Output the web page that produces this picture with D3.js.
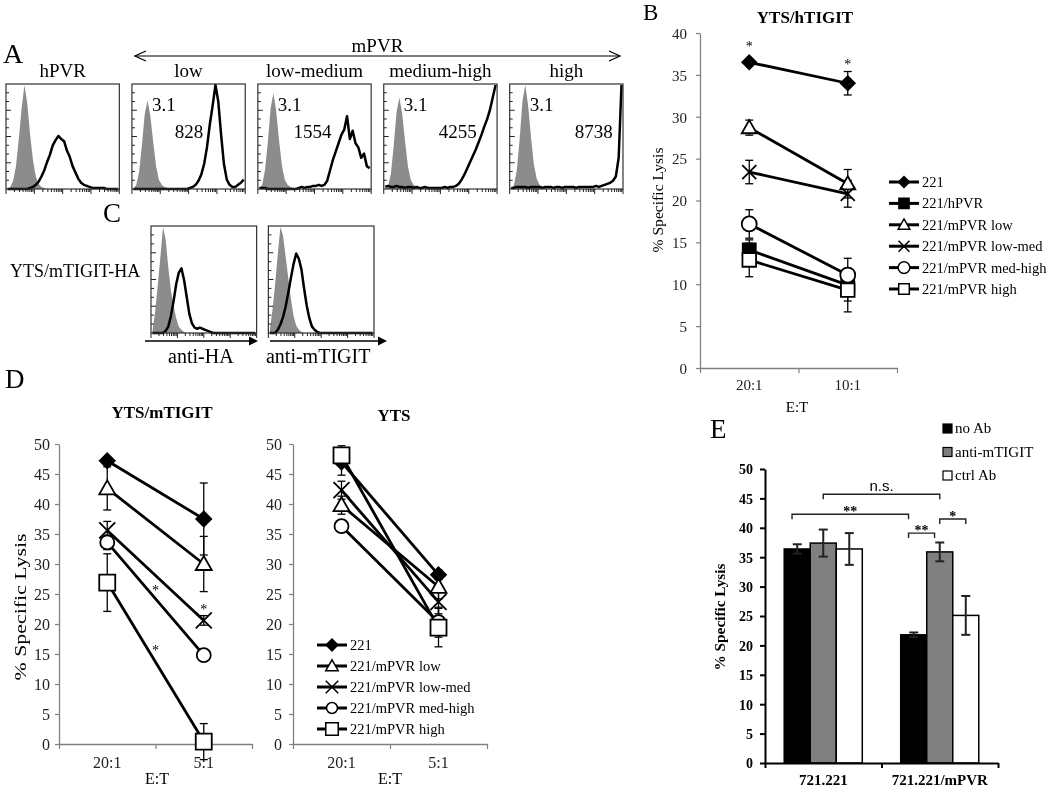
<!DOCTYPE html>
<html>
<head>
<meta charset="utf-8">
<script src="https://cdn.jsdelivr.net/npm/d3@7/dist/d3.min.js"></script>
<style>
html,body{margin:0;padding:0;background:#fff;}
svg{display:block;will-change:transform;}
</style>
</head>
<body>
<svg id="fig" width="1050" height="788"></svg>
<script>
// ================= DATA =================
// Panel A: flow histograms, relative counts in 40 log-spaced bins (4 decades)
const panelsA = ["hPVR", "low", "low-medium", "medium-high", "high"];
const isoMfiA = ["", "3.1", "3.1", "3.1", "3.1"];
const stainMfiA = ["", "828", "1554", "4255", "8738"];
const isoHPVR     = [0,2,8,22,48,78,100,82,52,28, 12,5,2,1,0,0,0,0,0,0, 0,0,0,0,0,0,0,0,0,0, 0,0,0,0,0,0,0,0,0,0];
const stainHPVR   = [0,0,0,0,0,0,0,0,1,2, 4,7,12,18,26,33,42,47,51,48, 46,37,31,22,16,10,6,4,3,2, 1,1,1,1,1,0,0,0,0,0];
const isoLow      = [0,4,16,42,72,85,70,45,22,9, 4,2,1,0,0,0,0,0,0,0, 0,0,0,0,0,0,0,0,0,0, 0,0,0,0,0,0,0,0,0,0];
const stainLow    = [0,0,0,0,0,0,0,0,0,0, 0,0,0,0,0,0,0,0,0,0, 1,2,4,8,14,24,40,62,80,100, 84,52,24,9,4,2,2,4,6,9];
const isoLowMed   = [0,4,18,45,78,92,74,46,22,9, 4,2,1,0,0,0,0,0,0,0, 0,0,0,0,0,0,0,0,0,0, 0,0,0,0,0,0,0,0,0,0];
const stainLowMed = [1,1,1,0,0,0,0,0,0,0, 0,0,0,0,1,2,1,2,2,3, 3,4,3,4,8,18,28,36,44,52, 57,70,48,56,44,40,30,34,22,20];
const isoMedHigh  = [0,3,15,42,74,88,72,46,22,9, 4,2,1,0,0,0,0,0,0,0, 0,0,0,0,0,0,0,0,0,0, 0,0,0,0,0,0,0,0,0,0];
const stainMedHigh= [2,3,2,2,3,2,2,1,2,2, 1,2,1,1,2,1,1,1,1,1, 1,2,1,2,2,3,5,9,14,20, 26,32,38,45,52,60,67,76,88,100];
const isoHigh     = [0,4,18,48,85,100,80,50,24,10, 4,2,1,0,0,0,0,0,0,0, 0,0,0,0,0,0,0,0,0,0, 0,0,0,0,0,0,0,0,0,0];
const stainHigh   = [1,1,2,2,2,2,1,2,2,2, 2,1,2,2,2,1,2,2,1,2, 2,2,2,1,2,2,2,2,2,2, 3,2,3,4,5,6,8,12,30,100];
const isoA = [isoHPVR, isoLow, isoLowMed, isoMedHigh, isoHigh];
const stainA = [stainHPVR, stainLow, stainLowMed, stainMedHigh, stainHigh];

// Panel C
const panelsC = ["anti-HA", "anti-mTIGIT"];
const isoHA   = [2,20,45,72,100,88,62,40,26,14, 6,3,1,0,0,0,0,0,0,0, 0,0,0,0,0,0,0,0,0,0, 0,0,0,0,0,0,0,0,0,0];
const stainHA = [0,0,0,0,0,2,6,16,30,46, 57,61,50,34,18,9,5,4,5,4, 3,2,1,0,0,0,0,0,0,0, 0,0,0,0,0,0,0,0,0,0];
const isoMT   = [3,22,46,74,100,92,72,52,32,16, 7,3,1,0,0,0,0,0,0,0, 0,0,0,0,0,0,0,0,0,0, 0,0,0,0,0,0,0,0,0,0];
const stainMT = [0,0,0,3,8,15,25,38,52,65, 75,70,60,42,26,14,6,3,1,0, 0,0,0,0,0,0,0,0,0,0, 0,0,0,0,0,0,0,0,0,0];
const isoC = [isoHA, isoMT];
const stainC = [stainHA, stainMT];

// Panel B: YTS/hTIGIT
const ratiosB = ["20:1", "10:1"];
const seriesB = ["221", "221/hPVR", "221/mPVR low", "221/mPVR low-med", "221/mPVR med-high", "221/mPVR high"];
const lysisB = [[36.5, 34.0], [14.1, 9.9], [28.7, 22.0], [23.4, 20.8], [17.2, 11.1], [12.9, 9.3]];
const errB   = [[0.3, 1.4], [1.2, 1.9], [0.9, 1.7], [1.4, 1.6], [1.7, 2.0], [2.0, 2.6]];
const starsB = [{pos: 0, y: 38.6}, {pos: 1, y: 36.5}];

// Panel D
const ratiosD = ["20:1", "5:1"];
const seriesD = ["221", "221/mPVR low", "221/mPVR low-med", "221/mPVR med-high", "221/mPVR high"];
const lysisMTIGIT = [[47.2, 37.5], [42.6, 30.0], [35.6, 20.6], [33.6, 14.8], [26.9, 0.4]];
const errMTIGIT   = [[0.5, 6.0], [3.6, 4.6], [1.5, 0.8], [1.2, 0.8], [4.8, 3.0]];
const starsD = [{pos: 0.5, y: 26.0}, {pos: 0.5, y: 16.0}, {pos: 1, y: 22.8}];
const lysisYTS = [[47.0, 28.2], [39.8, 26.2], [42.3, 23.7], [36.3, 20.3], [48.1, 19.4]];
const errYTS   = [[2.2, 0.8], [1.5, 2.0], [1.5, 2.0], [0.8, 2.5], [1.6, 3.2]];

// Panel E
const cellsE = ["721.221", "721.221/mPVR"];
const treatE = ["no Ab", "anti-mTIGIT", "ctrl Ab"];
const noAbE = [36.4, 21.8], noAbErrE = [0.8, 0.4];
const antiE = [37.4, 35.9], antiErrE = [2.3, 1.6];
const ctrlE = [36.4, 25.1], ctrlErrE = [2.7, 3.3];
const bracketsE = [
  {a: [0, 1], b: [1, 1], y: 45.7, label: "n.s."},
  {a: [0, 0], b: [1, 0], y: 42.3, label: "**"},
  {a: [1, 0], b: [1, 1], y: 39.1, label: "**"},
  {a: [1, 1], b: [1, 2], y: 41.5, label: "*"}
];

// ================= STYLE / LAYOUT =================
const SERIF = '"Liberation Serif","Times New Roman",Times,serif';
const SANS = '"Liberation Sans",Arial,Helvetica,sans-serif';
const markersB = ["diamond", "square", "triangle", "x", "circle", "square"];
const filledB = [true, true, false, false, false, false];
const sizeB = [7, 6.5, 7.5, 7, 7.5, 6.8];
const markersD = ["diamond", "triangle", "x", "circle", "square"];
const filledD = [true, false, false, false, false];
const sizeD = [7.5, 8, 8, 7, 8];
const mfiPosA = [0, 0.63, 0.65, 0.82, 0.91];
const bracketShift = [0, -0.2, -0.2, 0];
const fillsE = ["#000", "#808080", "#fff"];

const svg = d3.select("#fig");
svg.append("rect").attr("width", 1050).attr("height", 788).attr("fill", "#fff");

function txt(x, y, s, o = {}) {
  const t = svg.append("text").attr("x", x).attr("y", y).text(s)
    .attr("font-family", o.family || SERIF).attr("font-size", o.size || 16)
    .attr("font-weight", o.weight || "normal").attr("text-anchor", o.anchor || "start")
    .attr("fill", o.fill || "#000");
  if (o.rotate) t.attr("transform", `rotate(${o.rotate},${x},${y})`);
  if (o.len) t.attr("textLength", o.len).attr("lengthAdjust", "spacingAndGlyphs");
  return t;
}

function markerPath(type, r) {
  const p = d3.path();
  if (type === "diamond") { p.moveTo(0, -r); p.lineTo(r, 0); p.lineTo(0, r); p.lineTo(-r, 0); p.closePath(); }
  else if (type === "square") { p.rect(-r, -r, 2 * r, 2 * r); }
  else if (type === "triangle") { p.moveTo(0, -r); p.lineTo(r, r * 0.75); p.lineTo(-r, r * 0.75); p.closePath(); }
  else if (type === "circle") { p.moveTo(r, 0); p.arc(0, 0, r, 0, 2 * Math.PI); }
  else if (type === "x") { p.moveTo(-r, -r); p.lineTo(r, r); p.moveTo(r, -r); p.lineTo(-r, r); }
  return p.toString();
}
function drawMarker(g, cx, cy, type, filled, r, sw) {
  g.append("path").attr("d", markerPath(type, r)).attr("transform", `translate(${cx},${cy})`)
    .attr("fill", type === "x" ? "none" : (filled ? "#000" : "#fff"))
    .attr("stroke", "#000").attr("stroke-width", sw);
}

// ---------- histogram box ----------
function histBox(x0, y0, w, h, iso, stain) {
  const g = svg.append("g");
  const xs = d3.scaleLinear().domain([0, iso.length - 1]).range([x0 + 1.5, x0 + w - 1.5]);
  const ys = d3.scaleLinear().domain([0, 100]).range([y0 + h, y0 + 1]);
  g.append("path").datum(iso)
    .attr("d", d3.area().x((d, i) => xs(i)).y0(y0 + h).y1(d => ys(d)))
    .attr("fill", "#8c8c8c");
  g.append("path").datum(stain)
    .attr("d", d3.line().x((d, i) => xs(i)).y(d => ys(d)))
    .attr("fill", "none").attr("stroke", "#000").attr("stroke-width", 2.5).attr("stroke-linejoin", "round");
  g.append("rect").attr("x", x0).attr("y", y0).attr("width", w).attr("height", h)
    .attr("fill", "none").attr("stroke", "#333").attr("stroke-width", 1.2);
  const lx = d3.scaleLog().domain([1, 1e4]).range([x0, x0 + w]);
  lx.ticks().forEach(t => {
    const major = Math.abs(Math.log10(t) - Math.round(Math.log10(t))) < 1e-9;
    g.append("line").attr("x1", lx(t)).attr("x2", lx(t)).attr("y1", y0 + h).attr("y2", y0 + h + (major ? 5 : 3))
      .attr("stroke", "#222").attr("stroke-width", 1);
  });
  const ly = d3.scaleLinear().domain([0, 12]).range([y0 + h, y0]);
  d3.range(1, 12).forEach(k => {
    g.append("line").attr("x1", x0).attr("x2", x0 + (k % 3 === 0 ? 5 : 3)).attr("y1", ly(k)).attr("y2", ly(k))
      .attr("stroke", "#222").attr("stroke-width", 1);
  });
}

// ================= PANEL A =================
txt(3, 63, "A", {size: 28});
const xA = d3.scaleBand().domain(panelsA).range([6, 623]).paddingInner(0.1);
const topA = 84, hA = 105;
panelsA.forEach((p, i) => {
  const bx = xA(p), bw = xA.bandwidth();
  histBox(bx, topA, bw, hA, isoA[i], stainA[i]);
  txt(bx + bw / 2, 77, p, {size: 19, anchor: "middle"});
  if (isoMfiA[i]) txt(bx + 20, 111, isoMfiA[i], {size: 19});
  if (stainMfiA[i]) txt(bx + bw * mfiPosA[i], 138, stainMfiA[i], {size: 19, anchor: "end"});
});
(function () {
  const xl = xA(panelsA[1]) + 3, xr = xA(panelsA[4]) + xA.bandwidth() - 3, y = 56;
  svg.append("line").attr("x1", xl).attr("x2", xr).attr("y1", y).attr("y2", y).attr("stroke", "#000").attr("stroke-width", 1.2);
  svg.append("path").attr("d", `M${xl + 11},${y - 5}L${xl},${y}L${xl + 11},${y + 5}M${xr - 11},${y - 5}L${xr},${y}L${xr - 11},${y + 5}`)
    .attr("fill", "none").attr("stroke", "#000").attr("stroke-width", 1.2);
  txt((xl + xr) / 2, 52, "mPVR", {size: 19, anchor: "middle"});
})();

// ================= PANEL C =================
txt(103, 222, "C", {size: 27});
txt(10, 277, "YTS/mTIGIT-HA", {size: 18});
const xC = d3.scaleBand().domain(panelsC).range([151, 374]).paddingInner(0.1);
const arrowsC = [[145, 258], [270, 387]];
panelsC.forEach((p, i) => {
  const bx = xC(p), bw = xC.bandwidth();
  histBox(bx, 226, bw, 107, isoC[i], stainC[i]);
  const [a0, a1] = arrowsC[i];
  svg.append("line").attr("x1", a0).attr("x2", a1 - 6).attr("y1", 341).attr("y2", 341).attr("stroke", "#000").attr("stroke-width", 1.5);
  svg.append("path").attr("d", `M${a1},341L${a1 - 9},336.5L${a1 - 9},345.5Z`).attr("fill", "#000");
  txt(bx + bw / 2 - 3, 363, p, {size: 20, anchor: "middle"});
});

// ================= LINE CHARTS =================
function lineChart(c) {
  const g = svg.append("g");
  const x = d3.scaleBand().domain(c.cats).range([c.left, c.right]);
  const y = d3.scaleLinear().domain([0, c.yMax]).range([c.bottom, c.top]);
  const ya = g.append("g").attr("transform", `translate(${c.left},0)`)
    .call(d3.axisLeft(y).tickValues(d3.range(0, c.yMax + 0.01, 5)).tickSize(4).tickSizeOuter(0));
  ya.attr("font-family", SERIF);
  ya.select(".domain").attr("stroke", "#808080").attr("stroke-width", 1.3);
  ya.selectAll(".tick line").attr("stroke", "#808080").attr("stroke-width", 1.2);
  ya.selectAll(".tick text").attr("x", -c.yLabOff).attr("dy", "0.35em")
    .attr("font-family", SERIF).attr("font-size", c.tickFs).attr("fill", "#222");
  const xa = g.append("g").attr("transform", `translate(0,${c.bottom})`)
    .call(d3.axisBottom(x).tickSize(0).tickSizeOuter(0));
  xa.attr("font-family", SERIF);
  xa.select(".domain").attr("stroke", "#808080").attr("stroke-width", 1.3);
  xa.selectAll(".tick text").attr("y", c.xLabOff).attr("dy", 0)
    .attr("font-family", SERIF).attr("font-size", c.catFs).attr("fill", "#222");
  const xb = d3.scaleLinear().domain([0, c.cats.length]).range([c.left, c.right]);
  const xt = g.append("g").attr("transform", `translate(0,${c.bottom})`)
    .call(d3.axisBottom(xb).tickValues(d3.range(0, c.cats.length + 1)).tickSize(5).tickFormat("").tickSizeOuter(0));
  xt.select(".domain").remove();
  xt.selectAll(".tick line").attr("stroke", "#808080").attr("stroke-width", 1.2);
  const cx = d => x(d) + x.bandwidth() / 2;
  const posX = p => cx(c.cats[0]) + p * (cx(c.cats[1]) - cx(c.cats[0]));
  c.values.forEach((vals, i) => {
    vals.forEach((v, j) => {
      const e = c.errs[i][j], X = cx(c.cats[j]);
      g.append("line").attr("x1", X).attr("x2", X).attr("y1", y(v - e)).attr("y2", y(v + e))
        .attr("stroke", "#000").attr("stroke-width", 1.3);
      [v - e, v + e].forEach(w => g.append("line").attr("x1", X - 4).attr("x2", X + 4)
        .attr("y1", y(w)).attr("y2", y(w)).attr("stroke", "#000").attr("stroke-width", 1.3));
    });
  });
  c.values.forEach((vals, i) => {
    g.append("path").datum(vals)
      .attr("d", d3.line().x((v, j) => cx(c.cats[j])).y(v => y(v)))
      .attr("fill", "none").attr("stroke", "#000").attr("stroke-width", c.lw);
  });
  c.values.forEach((vals, i) => {
    vals.forEach((v, j) => drawMarker(g, cx(c.cats[j]), y(v), c.markers[i], c.filled[i], c.mr[i], c.msw));
  });
  (c.stars || []).forEach(s => {
    g.append("text").attr("x", posX(s.pos)).attr("y", y(s.y) + 6.5).text("*")
      .attr("font-family", SERIF).attr("font-size", 14).attr("text-anchor", "middle").attr("fill", "#000");
  });
  return {x, y};
}

function legend(x0, y0, dy, names, markers, filled, mr) {
  names.forEach((n, i) => {
    const yy = y0 + i * dy;
    svg.append("line").attr("x1", x0).attr("x2", x0 + 30).attr("y1", yy).attr("y2", yy)
      .attr("stroke", "#000").attr("stroke-width", 3);
    drawMarker(svg, x0 + 15, yy, markers[i], filled[i], mr[i] * 0.78, 1.5);
    txt(x0 + 33, yy + 5, n, {size: 14.5});
  });
}

// ================= PANEL B =================
txt(643, 20, "B", {size: 23});
txt(805, 23, "YTS/hTIGIT", {size: 17, weight: "bold", anchor: "middle"});
lineChart({cats: ratiosB, values: lysisB, errs: errB, markers: markersB, filled: filledB, mr: sizeB,
  left: 700, right: 897, top: 33, bottom: 368, yMax: 40, tickFs: 15, catFs: 15,
  yLabOff: 13, xLabOff: 22, lw: 2.8, msw: 1.8, stars: starsB});
txt(797, 412, "E:T", {size: 15, anchor: "middle"});
txt(663, 200, "% Specific Lysis", {size: 15.5, anchor: "middle", rotate: -90, len: 105});
legend(889, 182, 21.4, seriesB, markersB, filledB, sizeB);

// ================= PANEL D =================
txt(5, 388, "D", {size: 27});
txt(162, 418, "YTS/mTIGIT", {size: 17, weight: "bold", anchor: "middle"});
txt(394, 421, "YTS", {size: 17, weight: "bold", anchor: "middle"});
lineChart({cats: ratiosD, values: lysisMTIGIT, errs: errMTIGIT, markers: markersD, filled: filledD, mr: sizeD,
  left: 59, right: 252, top: 444, bottom: 744, yMax: 50, tickFs: 16, catFs: 16,
  yLabOff: 9, xLabOff: 24, lw: 2.8, msw: 1.8, stars: starsD});
lineChart({cats: ratiosD, values: lysisYTS, errs: errYTS, markers: markersD, filled: filledD, mr: sizeD,
  left: 293, right: 487, top: 444, bottom: 744, yMax: 50, tickFs: 16, catFs: 16,
  yLabOff: 11, xLabOff: 24, lw: 2.8, msw: 1.8});
txt(157, 784, "E:T", {size: 16, anchor: "middle"});
txt(390, 784, "E:T", {size: 16, anchor: "middle"});
txt(26, 607, "% Specific Lysis", {size: 17, anchor: "middle", rotate: -90, len: 147});
legend(317, 645, 21, seriesD, markersD, filledD, sizeD);

// ================= PANEL E =================
txt(710, 438, "E", {size: 27});
(function () {
  const g = svg.append("g");
  const x0 = d3.scaleBand().domain(cellsE).range([765, 998]);
  const bwG = x0.bandwidth();
  const x1 = d3.scaleBand().domain(treatE).range([0.165 * bwG, 0.835 * bwG]);
  const y = d3.scaleLinear().domain([0, 50]).range([763, 469]);
  const vals = [noAbE, antiE, ctrlE], errs = [noAbErrE, antiErrE, ctrlErrE];
  const ya = g.append("g").attr("transform", "translate(765,0)")
    .call(d3.axisLeft(y).tickValues(d3.range(0, 50.01, 5)).tickSize(5).tickSizeOuter(0));
  ya.select(".domain").attr("stroke", "#000").attr("stroke-width", 2);
  ya.selectAll(".tick line").attr("stroke", "#000").attr("stroke-width", 2);
  ya.selectAll(".tick text").attr("x", -12).attr("dy", "0.35em")
    .attr("font-family", SERIF).attr("font-size", 14).attr("font-weight", "bold").attr("fill", "#000");
  treatE.forEach((t, k) => {
    cellsE.forEach((cname, j) => {
      const v = vals[k][j];
      g.append("rect").attr("x", x0(cname) + x1(t)).attr("y", y(v))
        .attr("width", x1.bandwidth()).attr("height", y(0) - y(v))
        .attr("fill", fillsE[k]).attr("stroke", "#000").attr("stroke-width", 1.5);
    });
  });
  treatE.forEach((t, k) => {
    cellsE.forEach((cname, j) => {
      const v = vals[k][j], e = errs[k][j], X = x0(cname) + x1(t) + x1.bandwidth() / 2;
      g.append("line").attr("x1", X).attr("x2", X).attr("y1", y(v - e)).attr("y2", y(v + e)).attr("stroke", "#222").attr("stroke-width", 2);
      [v - e, v + e].forEach(w => g.append("line").attr("x1", X - 4.5).attr("x2", X + 4.5)
        .attr("y1", y(w)).attr("y2", y(w)).attr("stroke", "#222").attr("stroke-width", 2));
    });
  });
  const xa = g.append("g").attr("transform", "translate(0,763)")
    .call(d3.axisBottom(x0).tickSize(0).tickSizeOuter(0));
  xa.select(".domain").attr("stroke", "#000").attr("stroke-width", 2);
  xa.selectAll(".tick text").attr("y", 22).attr("dy", 0)
    .attr("font-family", SERIF).attr("font-size", 15).attr("font-weight", "bold").attr("fill", "#000");
  const xb = d3.scaleLinear().domain([0, cellsE.length]).range([765, 998]);
  const xt = g.append("g").attr("transform", "translate(0,763)")
    .call(d3.axisBottom(xb).tickValues(d3.range(0, cellsE.length + 1)).tickSize(5).tickFormat("").tickSizeOuter(0));
  xt.select(".domain").remove();
  xt.selectAll(".tick line").attr("stroke", "#000").attr("stroke-width", 2);
  const barC = (gi, ti) => x0(cellsE[gi]) + x1(treatE[ti]) + x1.bandwidth() / 2;
  bracketsE.forEach((b, i) => {
    const sh = bracketShift[i] * x1.bandwidth();
    const xa_ = barC(b.a[0], b.a[1]) + sh, xb_ = barC(b.b[0], b.b[1]) + sh, yy = y(b.y);
    g.append("path").attr("d", `M${xa_},${yy + 5}L${xa_},${yy}L${xb_},${yy}L${xb_},${yy + 5}`)
      .attr("fill", "none").attr("stroke", "#222").attr("stroke-width", 1.4);
    if (b.label === "n.s.") {
      g.append("text").attr("x", (xa_ + xb_) / 2).attr("y", yy - 3).text(b.label)
        .attr("font-family", SANS).attr("font-size", 15).attr("text-anchor", "middle").attr("fill", "#000");
    } else {
      g.append("text").attr("x", (xa_ + xb_) / 2).attr("y", yy + 2).text(b.label)
        .attr("font-family", SERIF).attr("font-size", 14).attr("font-weight", "bold").attr("text-anchor", "middle").attr("fill", "#000");
    }
  });
  treatE.forEach((t, k) => {
    const base = 433 + k * 23.5;
    g.append("rect").attr("x", 943).attr("y", base - 9).attr("width", 9).attr("height", 9)
      .attr("fill", fillsE[k]).attr("stroke", "#000").attr("stroke-width", 1.2);
    g.append("text").attr("x", 955).attr("y", base).text(t)
      .attr("font-family", SERIF).attr("font-size", 15).attr("fill", "#000");
  });
})();
txt(725, 617, "% Specific Lysis", {size: 15, weight: "bold", anchor: "middle", rotate: -90, len: 107});
</script>
</body>
</html>
